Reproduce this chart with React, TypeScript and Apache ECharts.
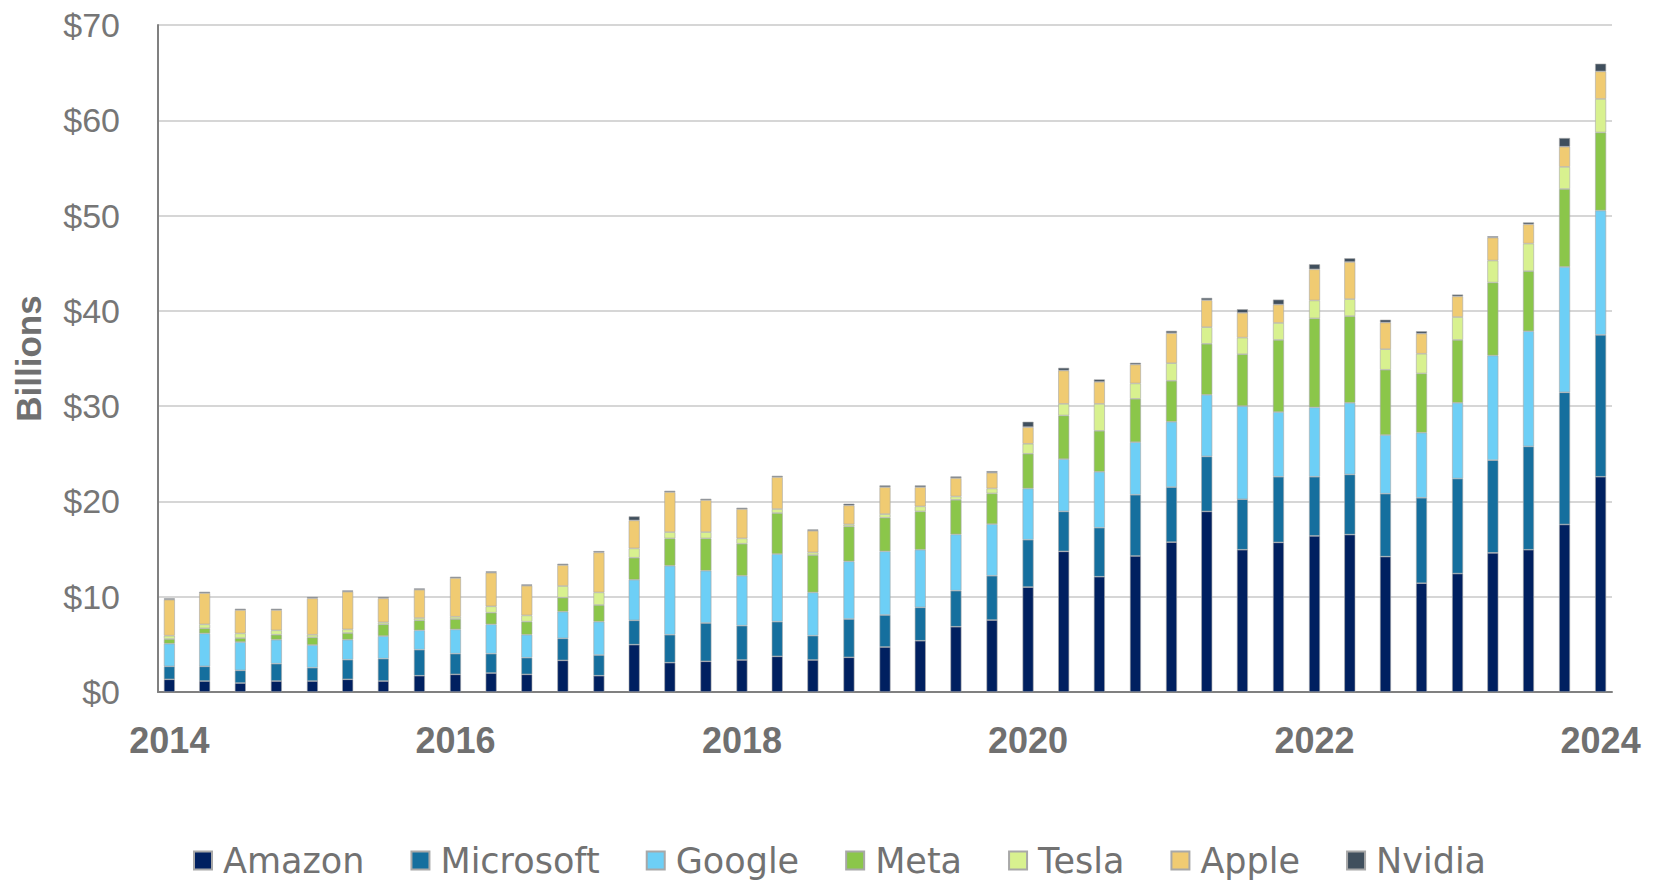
import React, { useEffect, useRef } from "react";
import * as echarts from "echarts";

// Quarter start dates (one bar per quarter)
const quarters = [
  "2014-01-01", "2014-04-01", "2014-07-01", "2014-10-01",
  "2015-01-01", "2015-04-01", "2015-07-01", "2015-10-01",
  "2016-01-01", "2016-04-01", "2016-07-01", "2016-10-01",
  "2017-01-01", "2017-04-01", "2017-07-01", "2017-10-01",
  "2018-01-01", "2018-04-01", "2018-07-01", "2018-10-01",
  "2019-01-01", "2019-04-01", "2019-07-01", "2019-10-01",
  "2020-01-01", "2020-04-01", "2020-07-01", "2020-10-01",
  "2021-01-01", "2021-04-01", "2021-07-01", "2021-10-01",
  "2022-01-01", "2022-04-01", "2022-07-01", "2022-10-01",
  "2023-01-01", "2023-04-01", "2023-07-01", "2023-10-01",
  "2024-01-01",
];

const amazon = [1.33, 1.15, 0.94, 1.15, 1.15, 1.33, 1.15, 1.71, 1.85, 1.99, 1.85, 3.32, 1.71, 4.97, 3.08, 3.22, 3.36, 3.74, 3.36, 3.64, 4.72, 5.38, 6.85, 7.55, 11.01, 14.76, 12.10, 14.27, 15.73, 18.95, 14.93, 15.70, 16.38, 16.52, 14.21, 11.42, 12.43, 14.60, 14.93, 17.58, 22.59];
const microsoft = [1.36, 1.54, 1.33, 1.82, 1.40, 2.06, 2.35, 2.73, 2.17, 2.03, 1.75, 2.31, 2.17, 2.55, 2.93, 4.02, 3.60, 3.64, 2.55, 4.02, 3.36, 3.50, 3.78, 4.65, 4.97, 4.19, 5.14, 6.43, 5.77, 5.77, 5.30, 6.89, 6.21, 6.31, 6.60, 8.96, 9.97, 9.73, 10.84, 13.87, 14.89];
const google = [2.38, 3.46, 2.97, 2.52, 2.38, 2.10, 2.37, 2.03, 2.55, 3.08, 2.41, 2.80, 3.50, 4.26, 7.24, 5.49, 5.24, 7.10, 4.54, 6.05, 6.68, 6.05, 5.91, 5.42, 5.38, 5.49, 5.87, 5.52, 6.86, 6.47, 9.78, 6.79, 7.28, 7.52, 6.16, 6.84, 7.95, 10.98, 12.09, 13.16, 13.05];
const meta = [0.49, 0.53, 0.42, 0.52, 0.80, 0.70, 1.23, 1.05, 1.09, 1.22, 1.37, 1.47, 1.75, 2.31, 2.87, 3.39, 3.36, 4.30, 3.92, 3.67, 3.53, 4.02, 3.63, 3.22, 3.64, 4.58, 4.30, 4.55, 4.30, 5.35, 5.44, 7.57, 9.34, 9.10, 6.85, 6.21, 6.60, 7.66, 6.31, 8.18, 8.19];
const tesla = [0.35, 0.42, 0.49, 0.46, 0.28, 0.38, 0.21, 0.24, 0.24, 0.67, 0.66, 1.22, 1.32, 0.98, 0.66, 0.66, 0.56, 0.42, 0.28, 0.21, 0.38, 0.53, 0.35, 0.52, 1.05, 1.22, 2.83, 1.61, 1.85, 1.75, 1.74, 1.78, 1.88, 1.78, 2.16, 2.07, 2.40, 2.31, 2.89, 2.32, 3.52];
const apple = [3.78, 3.28, 2.45, 2.13, 3.82, 3.95, 2.52, 2.97, 4.06, 3.53, 3.11, 2.20, 4.20, 2.94, 4.20, 3.36, 3.08, 3.35, 2.27, 1.99, 2.83, 2.02, 1.93, 1.65, 1.75, 3.50, 2.31, 1.99, 3.15, 2.83, 2.60, 1.93, 3.27, 3.90, 2.80, 2.12, 2.17, 2.41, 2.02, 2.12, 2.89];
const nvidia = [0.14, 0.14, 0.14, 0.14, 0.14, 0.14, 0.14, 0.14, 0.14, 0.14, 0.14, 0.14, 0.14, 0.42, 0.14, 0.14, 0.14, 0.14, 0.14, 0.18, 0.18, 0.18, 0.17, 0.17, 0.56, 0.28, 0.25, 0.18, 0.24, 0.24, 0.38, 0.52, 0.53, 0.39, 0.29, 0.24, 0.19, 0.14, 0.20, 0.91, 0.81];

const seriesNames = ["Amazon", "Microsoft", "Google", "Meta", "Tesla", "Apple", "Nvidia"];
const seriesValues = [amazon, microsoft, google, meta, tesla, apple, nvidia];
const seriesColors = ["#002060", "#156f9e", "#6dcff6", "#8bc64a", "#d8f18f", "#f0cb72", "#404f5d"];

const xTickLabels = ["2014", "2016", "2018", "2020", "2022", "2024"];
const yMin = 0;
const yMax = 70;
const yInterval = 10;
const ONE_YEAR = 365 * 24 * 3600 * 1000;

export default function App() {
  const ref = useRef<HTMLDivElement>(null);

  useEffect(() => {
    if (!ref.current) return;
    const chart = echarts.init(ref.current, undefined, { renderer: "svg" });
    chart.setOption({
      animation: false,
      backgroundColor: "#ffffff",
      grid: { left: 158, right: 53, top: 25, bottom: 191, containLabel: false },
      legend: {
        data: seriesNames,
        left: 188,
        top: 838,
        icon: "rect",
        itemWidth: 18,
        itemHeight: 18,
        itemGap: 46,
        textStyle: {
          fontFamily: "DejaVu Sans",
          fontSize: 35,
          color: "#727272",
          padding: [0, 0, 0, 6],
        },
      },
      xAxis: {
        type: "time",
        min: "2013-12-17",
        max: "2024-01-16",
        splitNumber: 10,
        minInterval: ONE_YEAR,
        maxInterval: ONE_YEAR * 1.01,
        axisLine: { show: true, lineStyle: { color: "#808080", width: 2 } },
        axisTick: { show: false },
        splitLine: { show: false },
        axisLabel: {
          margin: 30,
          fontFamily: "Liberation Sans",
          fontWeight: "bold",
          fontSize: 36,
          color: "#707070",
          showMinLabel: false,
          showMaxLabel: false,
          hideOverlap: false,
          formatter: (v: number) => {
            const d = new Date(v);
            if (d.getMonth() !== 0 || d.getDate() !== 1) return "";
            const s = String(d.getFullYear());
            return xTickLabels.indexOf(s) >= 0 ? s : "";
          },
        },
      },
      yAxis: {
        type: "value",
        min: yMin,
        max: yMax,
        interval: yInterval,
        name: "Billions",
        nameLocation: "middle",
        nameRotate: 90,
        nameGap: 112,
        nameTextStyle: {
          fontFamily: "Liberation Sans",
          fontWeight: "bold",
          fontSize: 35,
          color: "#707070",
        },
        axisLine: { show: true, onZero: false, lineStyle: { color: "#808080", width: 2 } },
        axisTick: { show: false },
        splitLine: { show: true, lineStyle: { color: "#c8c8c8", width: 1.5 } },
        axisLabel: {
          margin: 38,
          fontFamily: "Liberation Sans",
          fontSize: 34,
          color: "#767676",
          formatter: (v: number) => "$" + v,
        },
      },
      series: seriesNames.map((name, si) => ({
        name,
        type: "bar",
        stack: "total",
        barWidth: 11,
        itemStyle: {
          color: seriesColors[si],
          borderColor: "#a8a8a8",
          borderWidth: 0.6,
        },
        data: quarters.map((q, i) => [q, seriesValues[si][i]]),
      })),
    });
    return () => chart.dispose();
  }, []);

  return (
    <div
      ref={ref}
      style={{ position: "absolute", left: 0, top: 0, width: 1665, height: 883 }}
    />
  );
}
